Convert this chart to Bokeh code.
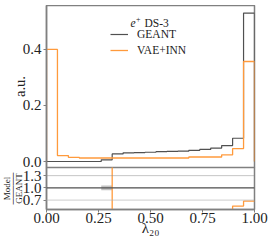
import numpy as np
from bokeh.plotting import figure
from bokeh.models import Range1d, FixedTicker, Span, Label, Legend, LegendItem
from bokeh.layouts import column
from bokeh.embed import file_html
from bokeh.resources import INLINE

# ---- data ----
n_bins = 19
bin_edges = np.linspace(0.0, 1.0, n_bins + 1)
geant = [0.0, 0.0, 0.0, 0.0, 0.0, 0.006, 0.027, 0.031, 0.032, 0.033,
         0.035, 0.036, 0.037, 0.040, 0.043, 0.048, 0.057, 0.083, 0.530]
vae_inn = [0.400, 0.021, 0.015, 0.0125, 0.0125, 0.0125, 0.0125, 0.0125, 0.0125, 0.0125,
           0.0125, 0.0125, 0.0125, 0.016, 0.016, 0.016, 0.024, 0.046, 0.357]
geant_rel_err = [0.0, 0.0, 0.0, 0.0, 0.0, 0.06, 0.005, 0.005, 0.005, 0.005,
                 0.005, 0.005, 0.005, 0.005, 0.005, 0.005, 0.005, 0.005, 0.002]
main_ticks = [0.0, 0.2, 0.4]
main_tick_labels = ["0.0", "0.2", "0.4"]
ratio_ticks = [0.7, 1.0, 1.3]
ratio_tick_labels = ["0.7", "1.0", "1.3"]
x_ticks = [0.0, 0.25, 0.5, 0.75, 1.0]
x_tick_labels = ["0.00", "0.25", "0.50", "0.75", "1.00"]

FONT = "Liberation Serif"
SPINE = "#808080"
GRAY = "#505050"
ORANGE = "#ff9a3c"
TXT = "#222222"

geant_a = np.array(geant)
vae_a = np.array(vae_inn)


def hist_steps(edges, vals):
    xs = np.repeat(edges, 2)
    ys = np.concatenate([[0.0], np.repeat(vals, 2), [0.0]])
    return xs, ys


def style_axis(ax):
    ax.minor_tick_line_color = None
    ax.major_tick_in = 0
    ax.major_tick_out = 3
    ax.major_label_standoff = 2
    ax.axis_line_color = SPINE
    ax.axis_line_width = 1.5
    ax.major_tick_line_color = SPINE
    ax.major_label_text_font = FONT
    ax.major_label_text_font_size = "15px"
    ax.major_label_text_color = TXT
    ax.axis_label_text_font = FONT
    ax.axis_label_text_font_style = "normal"
    ax.axis_label_text_color = TXT


xr = Range1d(0.0, 1.0)

# ---- main panel ----
p1 = figure(frame_width=208, frame_height=162, x_range=xr,
            y_range=Range1d(-0.0214, 0.557), output_backend="svg",
            toolbar_location=None, min_border_left=52, min_border_right=16,
            min_border_top=0, min_border_bottom=6)
p1.xaxis.visible = False
p1.xgrid.visible = False
p1.ygrid.visible = False
p1.outline_line_color = SPINE
p1.outline_line_width = 1.5
yax = p1.yaxis[0]
style_axis(yax)
yax.ticker = FixedTicker(ticks=main_ticks)
yax.major_label_overrides = dict(zip(main_ticks, main_tick_labels))
yax.axis_label = "a.u."
yax.axis_label_text_font_size = "14.5px"
yax.axis_label_standoff = -8

gx, gy = hist_steps(bin_edges, geant_a)
vx, vy = hist_steps(bin_edges, vae_a)
r_g = p1.line(gx, gy, line_color=GRAY, line_width=1.2)
r_v = p1.line(vx, vy, line_color=ORANGE, line_width=1.3)

legend = Legend(items=[LegendItem(label="GEANT", renderers=[r_g]),
                       LegendItem(label="VAE+INN", renderers=[r_v])],
                location=(64, 109), border_line_color=None,
                background_fill_alpha=0.0, padding=0, margin=0, spacing=0,
                glyph_width=18, glyph_height=16, label_height=16,
                label_standoff=9, label_text_font=FONT,
                label_text_font_size="11.5px", label_text_color=TXT)
p1.add_layout(legend)

p1.add_layout(Label(x=0.404, y=0.493, text="e", text_font=FONT,
                    text_font_style="italic", text_font_size="11.5px",
                    text_baseline="alphabetic", text_color=TXT))
p1.add_layout(Label(x=0.430, y=0.510, text="+", text_font=FONT,
                    text_font_size="8px", text_baseline="alphabetic",
                    text_color=TXT))
p1.add_layout(Label(x=0.471, y=0.493, text="DS-3", text_font=FONT,
                    text_font_size="11.5px", text_baseline="alphabetic",
                    text_color=TXT))

# ---- ratio panel ----
p2 = figure(frame_width=208, frame_height=42, x_range=xr,
            y_range=Range1d(0.47, 1.50), output_backend="svg",
            toolbar_location=None, min_border_left=52, min_border_right=16,
            min_border_top=0, border_fill_alpha=0.0, margin=(-6, 0, 0, 0))
p2.xgrid.visible = False
p2.ygrid.visible = False
p2.outline_line_color = SPINE
p2.outline_line_width = 1.5
ry = p2.yaxis[0]
style_axis(ry)
ry.ticker = FixedTicker(ticks=ratio_ticks)
ry.major_label_overrides = dict(zip(ratio_ticks, ratio_tick_labels))
ry.axis_label = "Model\n─────\nGEANT"
ry.axis_label_text_font_size = "9px"
ry.axis_label_text_line_height = 0.6
ry.axis_label_standoff = -4
rx = p2.xaxis[0]
style_axis(rx)
rx.ticker = FixedTicker(ticks=x_ticks)
rx.major_label_overrides = dict(zip(x_ticks, x_tick_labels))
rx.major_label_standoff = 0
rx.axis_label = "λ₂₀"
rx.axis_label_text_font_size = "15px"
rx.axis_label_standoff = -6

for val, col, w in ((1.3, "#8a8a8a", 1.0), (0.7, "#b0b0b0", 1.4)):
    p2.add_layout(Span(location=val, dimension="width", line_color=col,
                       line_width=w, line_dash="1 1"))
p2.add_layout(Span(location=1.0, dimension="width", line_color=GRAY, line_width=1.2))

# GEANT uncertainty band around 1
mask = geant_a > 0
lo_e = bin_edges[:-1][mask]
hi_e = bin_edges[1:][mask]
err = np.array(geant_rel_err)[mask]
p2.quad(left=lo_e, right=hi_e, bottom=1 - err, top=1 + err,
        fill_color="#aaaaaa", fill_alpha=0.7, line_color=None)

ratio = np.where(mask, vae_a / np.where(mask, geant_a, 1.0), np.nan)
first = int(np.argmax(mask))
rxs = np.repeat(bin_edges[first:], 2)[1:-1]
rys = np.repeat(ratio[first:], 2)
p2.line(rxs, rys, line_color=ORANGE, line_width=1.3)

layout = column(p1, p2, margin=(5, 0, -10, -6))
open("out.html", "w").write(file_html(layout, INLINE))
